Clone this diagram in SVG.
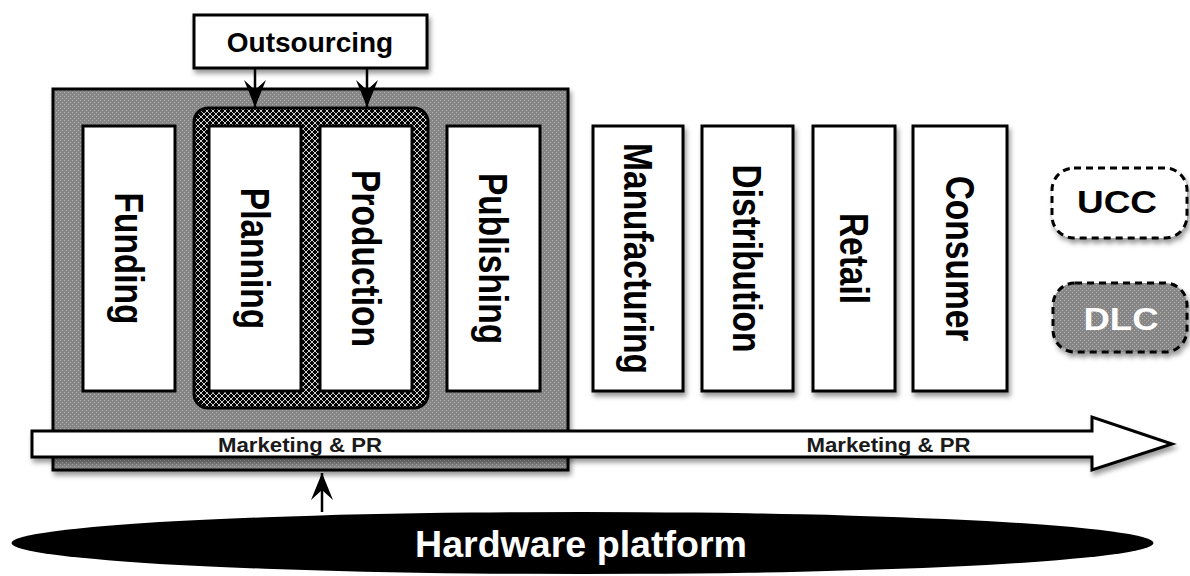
<svg xmlns="http://www.w3.org/2000/svg" width="1190" height="576" viewBox="0 0 1190 576">
  <defs>
    <pattern id="grayPat" width="4" height="4" patternUnits="userSpaceOnUse">
      <rect width="4" height="4" fill="#868686"/>
      <rect x="0" y="0" width="1" height="1" fill="#b0b0b0"/>
      <rect x="2" y="2" width="1" height="1" fill="#b0b0b0"/>
    </pattern>
    <pattern id="hatchPat" width="6" height="6" patternUnits="userSpaceOnUse">
      <rect width="6" height="6" fill="#000"/>
      <path d="M0,0 L6,6 M6,0 L0,6" stroke="#d0d0d0" stroke-width="1"/>
    </pattern>
    <filter id="shadow" x="-10%" y="-10%" width="130%" height="140%">
      <feDropShadow dx="2" dy="4" stdDeviation="2.5" flood-color="#000" flood-opacity="0.4"/>
    </filter>
    <marker id="barb" viewBox="-28 -12 30 24" refX="0" refY="0" markerWidth="30" markerHeight="24" markerUnits="userSpaceOnUse" orient="auto">
      <path d="M0,0 L-27,-11 L-17,0 L-27,11 Z" fill="#000"/>
    </marker>
    <style>
      .box { fill: #fff; stroke: #000; stroke-width: 3; }
      .vlabel { font-family: "Liberation Sans", Arial, sans-serif; font-weight: bold; font-size: 33.5px; fill: #000; text-anchor: middle; }
      .hlabel { font-family: "Liberation Sans", Arial, sans-serif; font-weight: bold; fill: #000; text-anchor: middle; }
      .mk { font-family: "Liberation Sans", Arial, sans-serif; font-weight: bold; font-size: 20px; fill: #1a1a1a; text-anchor: middle; }
      .conn { stroke: #000; stroke-width: 2.5; fill: none; }
      .dash { stroke: #000; stroke-width: 3; stroke-dasharray: 7 5; }
    </style>
  </defs>

  <rect width="1190" height="576" fill="#fff"/>

  <g id="outsourcing">
    <rect class="box" x="194" y="15" width="233" height="53" filter="url(#shadow)"/>
    <text class="hlabel" x="310" y="52" font-size="28">Outsourcing</text>
  </g>

  <g id="studio">
    <rect x="53" y="89" width="515" height="381" fill="url(#grayPat)" stroke="#000" stroke-width="3" filter="url(#shadow)"/>
  </g>

  <g id="funding">
    <rect class="box" x="83" y="126" width="92" height="265"/>
    <text class="vlabel" transform="translate(129,258.5) rotate(90) scale(1,1.2)" y="12">Funding</text>
  </g>

  <g id="outsourced-group">
    <rect x="194" y="108" width="234" height="300" rx="14" fill="url(#hatchPat)" stroke="#000" stroke-width="3"/>
  </g>

  <g id="planning">
    <rect class="box" x="209" y="126" width="92" height="265"/>
    <text class="vlabel" transform="translate(255,258.5) rotate(90) scale(1,1.2)" y="12">Planning</text>
  </g>

  <g id="production">
    <rect class="box" x="320" y="126" width="92" height="265"/>
    <text class="vlabel" transform="translate(366,258.5) rotate(90) scale(1,1.2)" y="12">Production</text>
  </g>

  <g id="publishing">
    <rect class="box" x="447" y="126" width="93" height="265"/>
    <text class="vlabel" transform="translate(493.5,258.5) rotate(90) scale(1,1.2)" y="12">Publishing</text>
  </g>

  <g id="manufacturing">
    <rect class="box" x="593" y="126" width="90" height="265" filter="url(#shadow)"/>
    <text class="vlabel" transform="translate(638,258.5) rotate(90) scale(1,1.2)" y="12">Manufacturing</text>
  </g>

  <g id="distribution">
    <rect class="box" x="702" y="126" width="91" height="265" filter="url(#shadow)"/>
    <text class="vlabel" transform="translate(747.5,258.5) rotate(90) scale(1,1.2)" y="12">Distribution</text>
  </g>

  <g id="retail">
    <rect class="box" x="813" y="126" width="82" height="265" filter="url(#shadow)"/>
    <text class="vlabel" transform="translate(854,258.5) rotate(90) scale(1,1.2)" y="12">Retail</text>
  </g>

  <g id="consumer">
    <rect class="box" x="913" y="126" width="94" height="265" filter="url(#shadow)"/>
    <text class="vlabel" transform="translate(960,258.5) rotate(90) scale(1,1.2)" y="12">Consumer</text>
  </g>

  <g id="ucc">
    <rect class="dash" x="1052" y="168" width="135" height="70" rx="22" fill="#fff" filter="url(#shadow)"/>
    <text class="hlabel" x="1117" y="213" font-size="31" textLength="80" lengthAdjust="spacingAndGlyphs">UCC</text>
  </g>

  <g id="dlc">
    <rect class="dash" x="1053" y="283" width="134" height="69" rx="22" fill="url(#grayPat)" filter="url(#shadow)"/>
    <text class="hlabel" x="1121" y="330" font-size="32" style="fill:#fff" textLength="75" lengthAdjust="spacingAndGlyphs">DLC</text>
  </g>

  <g id="marketing">
    <path d="M32,431 L1092,431 L1092,417 L1172,444 L1092,470 L1092,457 L32,457 Z" fill="#fff" stroke="#000" stroke-width="3" stroke-linejoin="miter" filter="url(#shadow)"/>
    <text class="mk" x="300" y="452" textLength="164" lengthAdjust="spacingAndGlyphs">Marketing &amp; PR</text>
    <text class="mk" x="888.5" y="452" textLength="164" lengthAdjust="spacingAndGlyphs">Marketing &amp; PR</text>
  </g>

  <g id="hardware">
    <ellipse cx="582.5" cy="543" rx="571" ry="31" fill="#000"/>
    <text class="hlabel" x="581" y="557" font-size="36" style="fill:#fff" textLength="332" lengthAdjust="spacingAndGlyphs">Hardware platform</text>
  </g>

  <g id="connectors">
    <line class="conn" x1="255" y1="68" x2="255" y2="107" marker-end="url(#barb)"/>
    <line class="conn" x1="367" y1="68" x2="367" y2="107" marker-end="url(#barb)"/>
    <line class="conn" x1="322" y1="512" x2="322" y2="473" marker-end="url(#barb)"/>
  </g>
</svg>
